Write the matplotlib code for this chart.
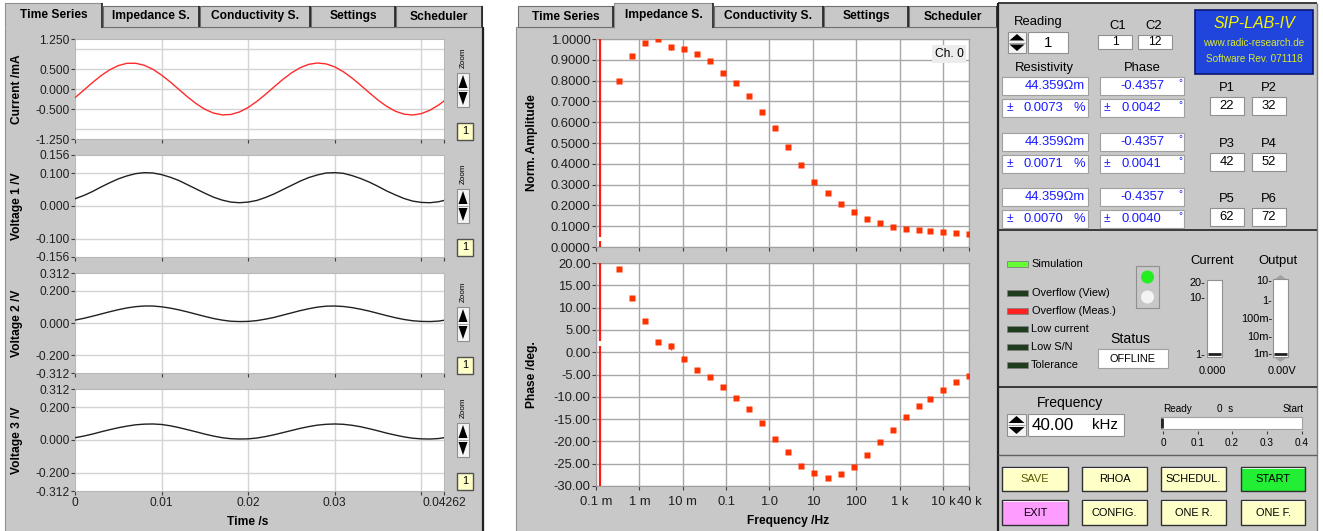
import numpy as np
import matplotlib.pyplot as plt
from matplotlib.patches import Rectangle, Circle, Polygon
from matplotlib.ticker import FixedLocator, NullLocator

plt.rcParams['font.family'] = ['Liberation Sans', 'DejaVu Sans']

# ---- time series data ----
time_s = [0.000, 0.001, 0.002, 0.003, 0.004, 0.005, 0.006, 0.007, 0.008, 0.009,
          0.010, 0.011, 0.012, 0.013, 0.014, 0.015, 0.016, 0.017, 0.018, 0.019,
          0.020, 0.021, 0.022, 0.023, 0.024, 0.025, 0.026, 0.027, 0.028, 0.029,
          0.030, 0.031, 0.032, 0.033, 0.034, 0.035, 0.036, 0.037, 0.038, 0.039,
          0.040, 0.041, 0.042, 0.04262]
current_mA = [-0.217, -0.031, 0.157, 0.332, 0.478, 0.585, 0.642, 0.644, 0.593, 0.492,
              0.348, 0.176, -0.011, -0.198, -0.367, -0.507, -0.602, -0.647, -0.637, -0.574,
              -0.462, -0.311, -0.134, 0.054, 0.238, 0.402, 0.532, 0.617, 0.650, 0.628,
              0.553, 0.431, 0.274, 0.093, -0.096, -0.277, -0.434, -0.555, -0.629, -0.650,
              -0.616, -0.530, -0.400, -0.300]
voltage1 = [0.022, 0.032, 0.044, 0.058, 0.071, 0.083, 0.092, 0.099, 0.102, 0.101,
            0.096, 0.088, 0.078, 0.065, 0.052, 0.039, 0.027, 0.018, 0.012, 0.010,
            0.012, 0.017, 0.026, 0.037, 0.050, 0.063, 0.076, 0.087, 0.095, 0.101,
            0.102, 0.100, 0.093, 0.084, 0.073, 0.060, 0.046, 0.034, 0.023, 0.015,
            0.011, 0.010, 0.013, 0.017]
voltage2 = [0.018, 0.029, 0.042, 0.056, 0.070, 0.083, 0.094, 0.102, 0.106, 0.106,
            0.101, 0.093, 0.082, 0.069, 0.055, 0.041, 0.028, 0.018, 0.011, 0.009,
            0.010, 0.015, 0.024, 0.035, 0.049, 0.063, 0.077, 0.089, 0.099, 0.105,
            0.106, 0.103, 0.096, 0.086, 0.074, 0.060, 0.046, 0.033, 0.022, 0.014,
            0.010, 0.009, 0.012, 0.017]
voltage3 = [0.014, 0.024, 0.036, 0.050, 0.063, 0.075, 0.085, 0.093, 0.097, 0.098,
            0.095, 0.087, 0.076, 0.063, 0.050, 0.036, 0.024, 0.014, 0.008, 0.006,
            0.007, 0.012, 0.021, 0.032, 0.045, 0.058, 0.071, 0.082, 0.091, 0.096,
            0.098, 0.096, 0.090, 0.081, 0.069, 0.056, 0.042, 0.030, 0.019, 0.011,
            0.007, 0.006, 0.009, 0.014]

# ---- impedance spectrum ----
freq_hz = [0.000334, 0.000668, 0.00134, 0.00267, 0.00534, 0.0107, 0.0214, 0.0427,
           0.0855, 0.171, 0.342, 0.684, 1.37, 2.73, 5.47, 10.9, 21.9, 43.8, 87.5,
           175, 350, 700, 1400, 2800, 5000, 10000, 20000, 40000]
norm_amp = [0.800, 0.917, 0.982, 0.998, 0.960, 0.954, 0.929, 0.893, 0.838, 0.787,
            0.724, 0.649, 0.571, 0.481, 0.394, 0.314, 0.260, 0.205, 0.167, 0.135,
            0.115, 0.098, 0.087, 0.080, 0.075, 0.072, 0.067, 0.062]
phase_deg = [18.65, 12.20, 7.03, 2.23, 1.33, -1.59, -3.99, -5.64, -7.89, -10.21,
             -12.83, -15.98, -19.51, -22.43, -25.51, -27.00, -28.13, -27.38, -25.73, -23.10,
             -20.18, -17.48, -14.63, -12.08, -10.43, -8.41, -6.61, -5.26]
amp_err = [0, 0, 0, 0, 0.012, 0, 0, 0, 0, 0, 0, 0, 0, 0, 0, 0, 0, 0, 0, 0, 0, 0, 0, 0, 0, 0, 0, 0]
phase_err = [0, 0, 0, 0, 0.8, 0, 0, 0, 0, 0, 0, 0, 0, 0, 0, 0, 0, 0, 0, 0, 0, 0, 0, 0, 0, 0, 0, 0]
cursor_hz = 0.000124
freq_ticks = [1e-4, 1e-3, 1e-2, 1e-1, 1, 10, 100, 1e3, 1e4, 4e4]
freq_labels = ['0.1 m', '1 m', '10 m', '0.1', '1.0', '10', '100', '1 k', '10 k', '40 k']

# ---- readouts ----
tab_names = ['Time Series', 'Impedance S.', 'Conductivity S.', 'Settings', 'Scheduler']
resistivity = ['44.359', '44.359', '44.359']
resistivity_err = ['0.0073', '0.0071', '0.0070']
phase_val = ['-0.4357', '-0.4357', '-0.4357']
phase_val_err = ['0.0042', '0.0041', '0.0040']
electrodes = [22, 32, 42, 52, 62, 72]
led_names = ['Simulation', 'Overflow (View)', 'Overflow (Meas.)', 'Low current', 'Low S/N', 'Tolerance']
led_colors = ['#66ff33', '#1e3d1e', '#ff2020', '#1e3d1e', '#1e3d1e', '#1e3d1e']
buttons = ['SAVE', 'RHOA', 'SCHEDUL.', 'START', 'EXIT', 'CONFIG.', 'ONE R.', 'ONE F.']
button_colors = ['#ffffc8', '#ffffc8', '#ffffc8', '#22ee33', '#ff9cff', '#ffffc8', '#ffffc8', '#ffffc8']

W, H = 1323, 531
PANEL = '#c8c8c8'
BLUE = '#1a1aff'

fig = plt.figure(figsize=(W / 100, H / 100), dpi=100)
fig.patch.set_facecolor('white')
bg = fig.add_axes([0, 0, 1, 1])
bg.set_xlim(0, W)
bg.set_ylim(H, 0)
bg.axis('off')


def pt(px):
    return px * 0.72


def rect(x0, y0, x1, y1, fc, ec='none', lw=0.8, z=1):
    bg.add_patch(Rectangle((x0, y0), x1 - x0, y1 - y0, fc=fc, ec=ec, lw=lw, zorder=z))


def line(xs, ys, c='#202020', lw=1.0, z=3):
    bg.plot(xs, ys, color=c, lw=lw, zorder=z, solid_capstyle='butt')


def txt(x, y, s, size=12, ha='center', va='center', **kw):
    bg.text(x, y, s, fontsize=pt(size), ha=ha, va=va, zorder=5, **kw)


def spinner(x0, y0, x1, y1):
    rect(x0, y0, x1, y1, '#f4f4f4', ec='#909090', z=3)
    xm, ym = (x0 + x1) / 2, (y0 + y1) / 2
    bg.add_patch(Polygon([(x0 + 1.5, ym - 2), (x1 - 1.5, ym - 2), (xm, y0 + 2)], fc='black', zorder=4))
    bg.add_patch(Polygon([(x0 + 1.5, ym + 2), (x1 - 1.5, ym + 2), (xm, y1 - 2)], fc='black', zorder=4))
    line([x0 + 1, x1 - 1], [ym, ym], c='#909090', lw=0.6, z=4)


def axes_px(x0, y0, x1, y1):
    return fig.add_axes([x0 / W, 1 - y1 / H, (x1 - x0) / W, (y1 - y0) / H])


def tabs(edges, active):
    for i, (x0, x1) in enumerate(edges):
        if i == active:
            continue
        rect(x0, 6, x1, 27, PANEL, ec='#707070', z=2)
        line([x1, x1], [6, 27], lw=1.2, z=3)
        txt((x0 + x1) / 2, 16.5, tab_names[i], 12, fontweight='bold')
    x0, x1 = edges[active]
    rect(x0, 3, x1, 28.5, PANEL, z=4)
    line([x0, x0, x1], [28, 3, 3], c='#909090', lw=0.8, z=4)
    line([x1, x1], [3, 28], lw=1.2, z=4)
    txt((x0 + x1) / 2, 15, tab_names[active], 12, fontweight='bold')


# ---- panels ----
rect(5, 27, 483, 535, PANEL, ec='#909090', z=1)
line([483, 483], [27, 531], lw=1.6)
rect(516, 27, 998, 535, PANEL, ec='#909090', z=1)
rect(998, 3, 1317, 535, PANEL, z=1)
line([998, 998], [3, 531], lw=1.6)
line([998, 1317], [3, 3], lw=1.2)
line([1317, 1317], [3, 531], c='#808080', lw=1.0)
tabs([(5, 102), (103, 199), (200, 310), (311, 395), (396, 482)], 0)
tabs([(518, 613), (614, 713), (714, 823), (824, 908), (909, 997)], 1)

# ---- time series ----
ts_rows = [(39, 139), (155, 257), (273, 373), (389, 491)]
ts_data = [current_mA, voltage1, voltage2, voltage3]
ts_lim = [1.25, 0.156, 0.312, 0.312]
ts_ticks = [[-1.25, -0.5, 0, 0.5, 1.25], [-0.156, -0.1, 0, 0.1, 0.156],
            [-0.312, -0.2, 0, 0.2, 0.312], [-0.312, -0.2, 0, 0.2, 0.312]]
ts_grid = [[-1, -0.5, 0, 0.5, 1], [-0.1, 0, 0.1], [-0.2, 0, 0.2], [-0.2, 0, 0.2]]
ts_names = ['Current /mA', 'Voltage 1 /V', 'Voltage 2 /V', 'Voltage 3 /V']
ts_colors = ['#ff2a2a', '#202020', '#202020', '#202020']
for i, (y0, y1) in enumerate(ts_rows):
    ax = axes_px(75, y0, 444, y1)
    ax.set_facecolor('white')
    for g in ts_grid[i]:
        ax.axhline(g, color='#d4d4d4', lw=1.0, zorder=1)
    for g in [0.01, 0.02, 0.03, 0.04]:
        ax.axvline(g, color='#d4d4d4', lw=1.0, zorder=1)
    ax.plot(time_s, ts_data[i], color=ts_colors[i], lw=1.0, zorder=3)
    ax.set_xlim(0, 0.04262)
    ax.set_ylim(-ts_lim[i], ts_lim[i])
    ax.set_yticks(ts_ticks[i])
    ax.set_yticklabels(['%.3f' % v for v in ts_ticks[i]])
    ax.set_xticks([0, 0.01, 0.02, 0.03, 0.04, 0.04262])
    if i == 3:
        ax.set_xticklabels(['0', '0.01', '0.02', '0.03', '', '0.04262'])
    else:
        ax.set_xticklabels([])
    for s in ax.spines.values():
        s.set_color('#b8b8b8')
        s.set_linewidth(0.8)
    ax.tick_params(direction='out', length=3, width=0.8, color='#404040',
                   labelsize=pt(12), pad=1, labelcolor='#202020')
    fig.text(17 / W, 1 - (y0 + y1) / 2 / H, ts_names[i], rotation=90, ha='center',
             va='center', fontsize=pt(12), fontweight='bold')
    # zoom controls
    txt(463, y0 + 19, 'Zoom', 8, rotation=90)
    spinner(457, y0 + 34, 469, y0 + 68)
    rect(457, y0 + 84, 473, y0 + 101, '#ffffc8', ec='#505050', lw=1.0, z=3)
    txt(465, y0 + 92.5, '1', 11)
fig.text(248 / W, 1 - 522 / H, 'Time /s', ha='center', va='center',
         fontsize=pt(12), fontweight='bold')

# ---- impedance spectrum ----
amp_ax = axes_px(596, 39, 969, 247)
ph_ax = axes_px(596, 263, 969, 486)
for ax in (amp_ax, ph_ax):
    ax.set_facecolor('white')
    ax.set_xscale('log')
    ax.set_xlim(1e-4, 4e4)
    ax.xaxis.set_major_locator(FixedLocator(freq_ticks))
    ax.xaxis.set_minor_locator(NullLocator())
    ax.grid(True, color='#a8a8a8', lw=1.0, zorder=1)
    ax.set_axisbelow(True)
    for s in ax.spines.values():
        s.set_color('#a0a0a0')
        s.set_linewidth(0.8)
    ax.tick_params(direction='out', length=3, width=0.8, color='#404040',
                   labelsize=pt(13), pad=1, labelcolor='#202020')

amp_ax.errorbar(freq_hz, norm_amp, yerr=amp_err, fmt='s', color='#ff3300', ms=4,
                mec='none', elinewidth=0.8, capsize=0, zorder=4)
amp_ax.vlines(cursor_hz, 0.05, 1.0, color='#ff1a1a', lw=1.6, zorder=3)
amp_ax.vlines(cursor_hz, 0.0, 0.03, color='#ff1a1a', lw=1.6, zorder=3)
amp_ax.set_ylim(0, 1)
amp_ax.set_yticks(np.linspace(0, 1, 11))
amp_ax.set_yticklabels(['%.4f' % v for v in np.linspace(0, 1, 11)])
amp_ax.set_xticklabels([])
amp_ax.text(0.985, 0.93, 'Ch. 0', transform=amp_ax.transAxes, ha='right', va='center',
            fontsize=pt(12), bbox=dict(boxstyle='square,pad=0.25', fc='#ececec', ec='none'))

ph_ax.errorbar(freq_hz, phase_deg, yerr=phase_err, fmt='s', color='#ff3300', ms=4,
               mec='none', elinewidth=0.8, capsize=0, zorder=4)
ph_ax.vlines(cursor_hz, 2.5, 20, color='#ff1a1a', lw=1.6, zorder=3)
ph_ax.vlines(cursor_hz, -30, 1.5, color='#ff1a1a', lw=1.6, zorder=3)
ph_ax.set_ylim(-30, 20)
ph_ticks = [20, 15, 10, 5, 0, -5, -10, -15, -20, -25, -30]
ph_ax.set_yticks(ph_ticks)
ph_ax.set_yticklabels(['%.2f' % v for v in ph_ticks])
ph_ax.set_xticklabels(freq_labels)
ph_ax.tick_params(axis='x', pad=4)

fig.text(532 / W, 1 - 143 / H, 'Norm. Amplitude', rotation=90, ha='center', va='center',
         fontsize=pt(12), fontweight='bold')
fig.text(532 / W, 1 - 375 / H, 'Phase /deg.', rotation=90, ha='center', va='center',
         fontsize=pt(12), fontweight='bold')
fig.text(788 / W, 1 - 521 / H, 'Frequency /Hz', ha='center', va='center',
         fontsize=pt(12), fontweight='bold')

# ---- right control panel ----
line([998, 1317], [230, 230], lw=1.2)
line([998, 1317], [387, 387], lw=1.2)
line([998, 1317], [455, 455], c='#606060', lw=1.0)

txt(1038, 22, 'Reading', 13)
spinner(1008, 32, 1026, 53)
rect(1028, 32, 1068, 53, 'white', ec='#909090', z=3)
txt(1048, 43, '1', 15)
txt(1118, 26, 'C1', 13)
txt(1154, 26, 'C2', 13)
rect(1098, 35, 1132, 49, 'white', ec='#909090', z=3)
rect(1138, 35, 1172, 49, 'white', ec='#909090', z=3)
txt(1115, 42, '1', 12)
txt(1155, 42, '12', 12)

rect(1195, 10, 1313, 74, '#1f45dd', ec='#0a1670', lw=1.2, z=3)
txt(1254, 24, 'SIP-LAB-IV', 16, style='italic', color='#f5f500')
txt(1254, 43, 'www.radic-research.de', 10, color='#d8e830')
txt(1254, 59, 'Software Rev. 071118', 10, color='#d8e830')

txt(1044, 68, 'Resistivity', 13)
txt(1142, 68, 'Phase', 13)
row_tops = [77, 133, 188]
for k, yt in enumerate(row_tops):
    for (ya, yb) in [(yt, yt + 18), (yt + 22, yt + 40)]:
        rect(1002, ya, 1088, yb, 'white', ec='#a0a0a0', z=3)
        rect(1100, ya, 1184, yb, 'white', ec='#a0a0a0', z=3)
    yc, ye = yt + 9, yt + 31
    txt(1085, yc, resistivity[k] + '\u03a9m', 13, ha='right', color=BLUE)
    txt(1007, ye, '\u00b1', 12, ha='left', color=BLUE)
    txt(1024, ye, resistivity_err[k], 13, ha='left', color=BLUE)
    txt(1085, ye, '%', 13, ha='right', color=BLUE)
    txt(1164, yc, phase_val[k], 13, ha='right', color=BLUE)
    txt(1180, yc - 3, '\u00b0', 10, color=BLUE)
    txt(1104, ye, '\u00b1', 12, ha='left', color=BLUE)
    txt(1121, ye, phase_val_err[k], 13, ha='left', color=BLUE)
    txt(1180, ye - 3, '\u00b0', 10, color=BLUE)

p_label_y = [88, 144, 199]
p_box_y = [97, 153, 208]
for k in range(3):
    txt(1227, p_label_y[k], 'P%d' % (2 * k + 1), 13)
    txt(1269, p_label_y[k], 'P%d' % (2 * k + 2), 13)
    rect(1210, p_box_y[k], 1244, p_box_y[k] + 18, 'white', ec='#909090', z=3)
    rect(1252, p_box_y[k], 1286, p_box_y[k] + 18, 'white', ec='#909090', z=3)
    txt(1227, p_box_y[k] + 9, str(electrodes[2 * k]), 13)
    txt(1269, p_box_y[k] + 9, str(electrodes[2 * k + 1]), 13)

# status LEDs
led_y = [264, 293, 311, 329, 347, 365]
for name, col, y in zip(led_names, led_colors, led_y):
    rect(1007, y - 3, 1028, y + 3, col, ec='#808080', lw=0.6, z=3)
    txt(1031 if name != 'Overflow (View)' and name != 'Overflow (Meas.)' else 1032,
        y, name, 11, ha='left')

rect(1136, 266, 1159, 308, PANEL, ec='#909090', z=3)
bg.add_patch(Circle((1147.5, 277), 6.5, fc='#22ee22', ec='none', zorder=4))
bg.add_patch(Circle((1147.5, 297), 6.5, fc='#f4f4f4', ec='none', zorder=4))

txt(1130, 339, 'Status', 14)
rect(1098, 349, 1168, 368, 'white', ec='#a0a0a0', z=3)
txt(1133, 358.5, 'OFFLINE', 11)

# current / output meters
txt(1212, 261, 'Current', 13)
rect(1207, 280, 1222, 357, 'white', ec='#909090', z=3)
line([1208, 1221], [354, 354], lw=2.0, z=4)
for lab, y in [('20', 283), ('10', 298), ('1', 355)]:
    txt(1205, y, lab + '-', 11, ha='right')
txt(1212, 371, '0.000', 11)

txt(1278, 261, 'Output', 13)
rect(1273, 279, 1288, 357, 'white', ec='#909090', z=3)
line([1274, 1287], [354, 354], lw=2.0, z=4)
bg.add_patch(Polygon([(1275, 279), (1286, 279), (1280.5, 275)], fc='#a0a0a0', zorder=4))
bg.add_patch(Polygon([(1275, 358), (1286, 358), (1280.5, 362)], fc='#a0a0a0', zorder=4))
for lab, y in [('10', 281), ('1', 301), ('100m', 319), ('10m', 337), ('1m', 354)]:
    txt(1272, y, lab + '-', 11, ha='right')
txt(1282, 371, '0.00V', 11)

# frequency
txt(1070, 403, 'Frequency', 14)
spinner(1007, 414, 1026, 436)
rect(1028, 414, 1124, 436, 'white', ec='#909090', z=3)
txt(1032, 425, '40.00', 17, ha='left')
txt(1105, 425, 'kHz', 15)

txt(1178, 409, 'Ready', 10)
txt(1225, 409, '0  s', 10)
txt(1293, 409, 'Start', 10)
rect(1161, 417, 1302, 429, 'white', ec='#a0a0a0', z=3)
line([1162, 1162], [418, 428], lw=2.0, z=4)
for lab, x in [('0', 1163), ('0.1', 1198), ('0.2', 1232), ('0.3', 1267), ('0.4', 1302)]:
    line([x, x], [431, 434], c='#404040', lw=0.8)
    txt(x, 443, lab, 10)

# buttons
btn_x = [(1002, 1068), (1082, 1147), (1161, 1226), (1241, 1305)]
btn_y = [(467, 491), (500, 525)]
for k, name in enumerate(buttons):
    x0, x1 = btn_x[k % 4]
    y0, y1 = btn_y[k // 4]
    rect(x0, y0, x1, y1, button_colors[k], ec='#303030', lw=1.0, z=3)
    line([x0 + 1, x1 - 1], [y0 + 1, y0 + 1], c='white', lw=0.6, z=4)
    txt((x0 + x1) / 2, (y0 + y1) / 2 + 0.5, name, 11,
        color='#5a5a00' if name == 'SAVE' else 'black')

fig.savefig('out.png', dpi=100)
